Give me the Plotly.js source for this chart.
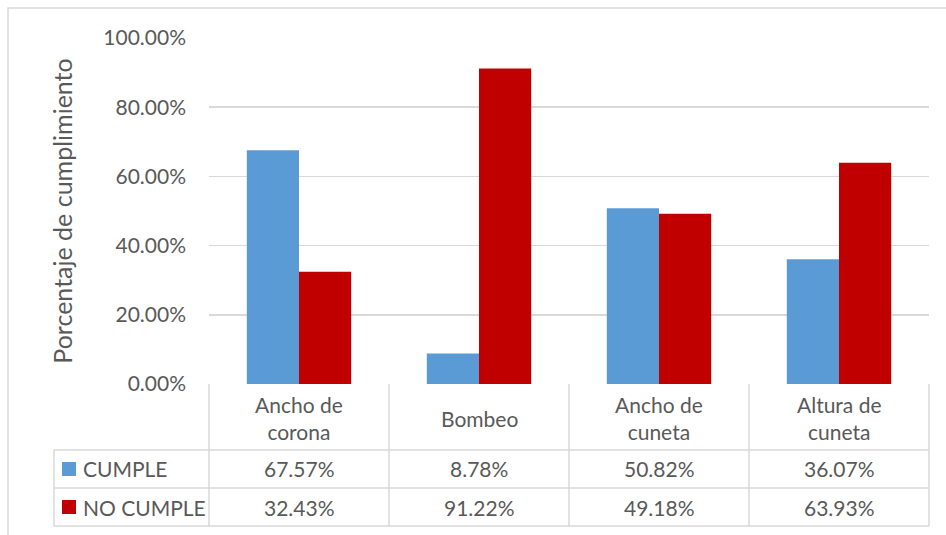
<!DOCTYPE html>
<html>
<head>
<meta charset="utf-8">
<script src="https://cdn.plot.ly/plotly-3.0.1.min.js"></script>
<style>html,body{margin:0;padding:0;background:#fff;}#chart{width:946px;height:535px;}</style>
</head>
<body>
<div id="chart"></div>
<script>
const categories = ["Ancho de corona", "Bombeo", "Ancho de cuneta", "Altura de cuneta"];
const categoryLabels = ["Ancho de<br>corona", "Bombeo", "Ancho de<br>cuneta", "Altura de<br>cuneta"];
const seriesNames = ["CUMPLE", "NO CUMPLE"];
const cumple = [0.6757, 0.0878, 0.5082, 0.3607];
const noCumple = [0.3243, 0.9122, 0.4918, 0.6393];
const seriesColors = ["#5B9BD5", "#C00000"];

const W = 946, H = 535;
const L = 209, R = 929, T = 38, B = 384;
const pw = R - L, ph = B - T;
const px = x => (x - L) / pw;
const py = y => (B - y) / ph;
const FONT = "Lato, 'Liberation Sans', sans-serif";
const TXT = "#595959";
const GRID = "#D9D9D9";

const traces = [
  {type: "bar", name: seriesNames[0], x: categories, y: cumple, marker: {color: seriesColors[0]}, hoverinfo: "none"},
  {type: "bar", name: seriesNames[1], x: categories, y: noCumple, marker: {color: seriesColors[1]}, hoverinfo: "none"}
];

const shapes = [];
const annotations = [];
function hline(y, x0, x1) {
  shapes.push({type: "line", xref: "paper", yref: "paper", x0: px(x0), x1: px(x1), y0: py(y), y1: py(y), line: {color: GRID, width: 1.5}});
}
function vline(x, y0, y1) {
  shapes.push({type: "line", xref: "paper", yref: "paper", x0: px(x), x1: px(x), y0: py(y0), y1: py(y1), line: {color: GRID, width: 1.5}});
}
// outer chart border
shapes.push({type: "rect", xref: "paper", yref: "paper", x0: px(8), x1: px(990), y0: py(580), y1: py(8), line: {color: GRID, width: 1.5}});
// data table grid
hline(450, 54, 929); hline(488, 54, 929); hline(526, 54, 929);
vline(54, 450, 526);
[209, 389, 569, 749, 929].forEach(x => vline(x, 384, 526));

// category header row
categories.forEach((c, i) => {
  annotations.push({xref: "x", yref: "paper", x: c, y: py(418), text: categoryLabels[i], showarrow: false,
    xanchor: "center", yanchor: "middle", font: {family: FONT, size: 21, color: TXT}});
});
const rowsY = [469, 507];
[cumple, noCumple].forEach((vals, s) => {
  vals.forEach((v, i) => {
    annotations.push({xref: "x", yref: "paper", x: categories[i], y: py(rowsY[s]), text: (v * 100).toFixed(2) + "%",
      showarrow: false, xanchor: "center", yanchor: "middle", font: {family: FONT, size: 21, color: TXT}});
  });
  shapes.push({type: "rect", xref: "paper", yref: "paper", x0: px(62), x1: px(76), y0: py(rowsY[s] - 7), y1: py(rowsY[s] + 7),
    fillcolor: seriesColors[s], line: {width: 0}});
  annotations.push({xref: "paper", yref: "paper", x: px(81), y: py(rowsY[s]), text: seriesNames[s], showarrow: false,
    xanchor: "left", yanchor: "middle", font: {family: FONT, size: 21, color: TXT}});
});

const layout = {
  width: W, height: H, autosize: false,
  margin: {l: L, r: W - R, t: T, b: H - B, pad: 0},
  paper_bgcolor: "#fff", plot_bgcolor: "#fff",
  showlegend: false,
  barmode: "group", bargap: 0.42, bargroupgap: 0,
  font: {family: FONT, color: TXT, size: 21},
  xaxis: {showticklabels: false, ticks: "", showgrid: false, showline: false, zeroline: false, fixedrange: true},
  yaxis: {range: [0, 1], dtick: 0.2, tick0: 0, tickformat: ".2%", showgrid: true, gridcolor: GRID, gridwidth: 1.5,
    zeroline: false, showline: false, ticks: "", ticklabelstandoff: 22,
    tickfont: {family: FONT, size: 21, color: TXT},
    title: {text: "Porcentaje de cumplimiento", standoff: 23, font: {family: FONT, size: 25, color: TXT}}},
  shapes: shapes, annotations: annotations
};
Plotly.newPlot("chart", traces, layout, {staticPlot: true, displayModeBar: false});
</script>
</body>
</html>
